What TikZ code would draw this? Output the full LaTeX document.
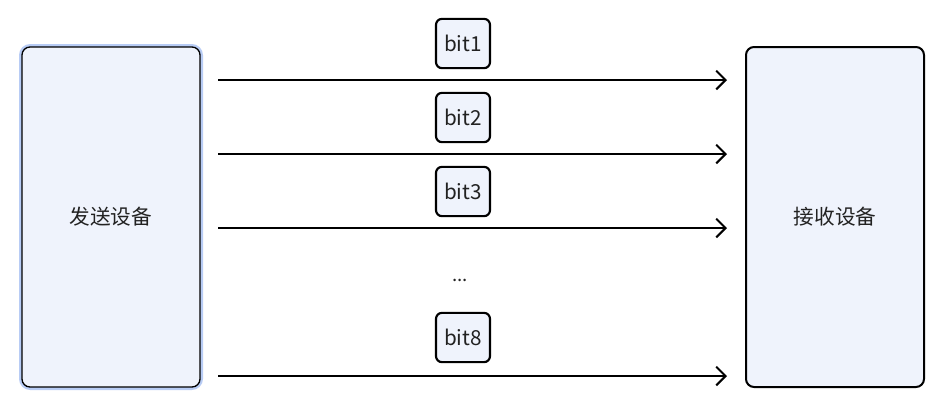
\documentclass[tikz,border=0pt]{standalone}
\usepackage{fontspec}
\setmainfont{Noto Sans CJK SC}
\usetikzlibrary{arrows.meta}
\definecolor{boxfill}{RGB}{239,243,252}
\definecolor{glow}{RGB}{184,204,245}
\definecolor{txt}{RGB}{34,34,34}
\tikzset{
  px/.style={x=0.75pt,y=-0.75pt},
  device/.style={draw=black,fill=boxfill,rounded corners=6pt,minimum width=133.5pt,minimum height=255pt,inner sep=0pt,text=txt,font=\fontsize{15.5}{18}\selectfont},
  bitbox/.style={draw=black,line width=1.6pt,fill=boxfill,rounded corners=4.5pt,minimum width=40.5pt,minimum height=37pt,inner sep=0pt,text=txt,font=\fontsize{15.5}{18}\selectfont},
  sig/.style={line width=1.5pt,-{Straight Barb[length=7pt,width=14pt,line width=1.5pt]}},
}
\begin{document}
\begin{tikzpicture}[px]
\useasboundingbox[fill=white] (0,0) rectangle (940,401);
% sender with selection glow
\draw[glow,line width=3pt,rounded corners=7pt] (21,46) rectangle (201,388);
\node[device,line width=1pt] (S) at (111,217) {发送设备};
\node[device,line width=1.5pt] (R) at (835,217) {接收设备};
% bits
\node[bitbox] (b1) at (463,43.5) {bit1};
\node[bitbox] (b2) at (463,117.5) {bit2};
\node[bitbox] (b3) at (463,191.5) {bit3};
\node[text=txt,font=\fontsize{14}{16}\selectfont] (dots) at (460,280) {...};
\node[bitbox] (b8) at (463,337.5) {bit8};
% line ends
\coordinate (s1) at (218,80);  \coordinate (e1) at (727,80);
\coordinate (s2) at (218,154); \coordinate (e2) at (727,154);
\coordinate (s3) at (218,228); \coordinate (e3) at (727,228);
\coordinate (s8) at (218,376); \coordinate (e8) at (727,376);
\draw[sig] (s1) -- (e1);
\draw[sig] (s2) -- (e2);
\draw[sig] (s3) -- (e3);
\draw[sig] (s8) -- (e8);
\end{tikzpicture}
\end{document}
